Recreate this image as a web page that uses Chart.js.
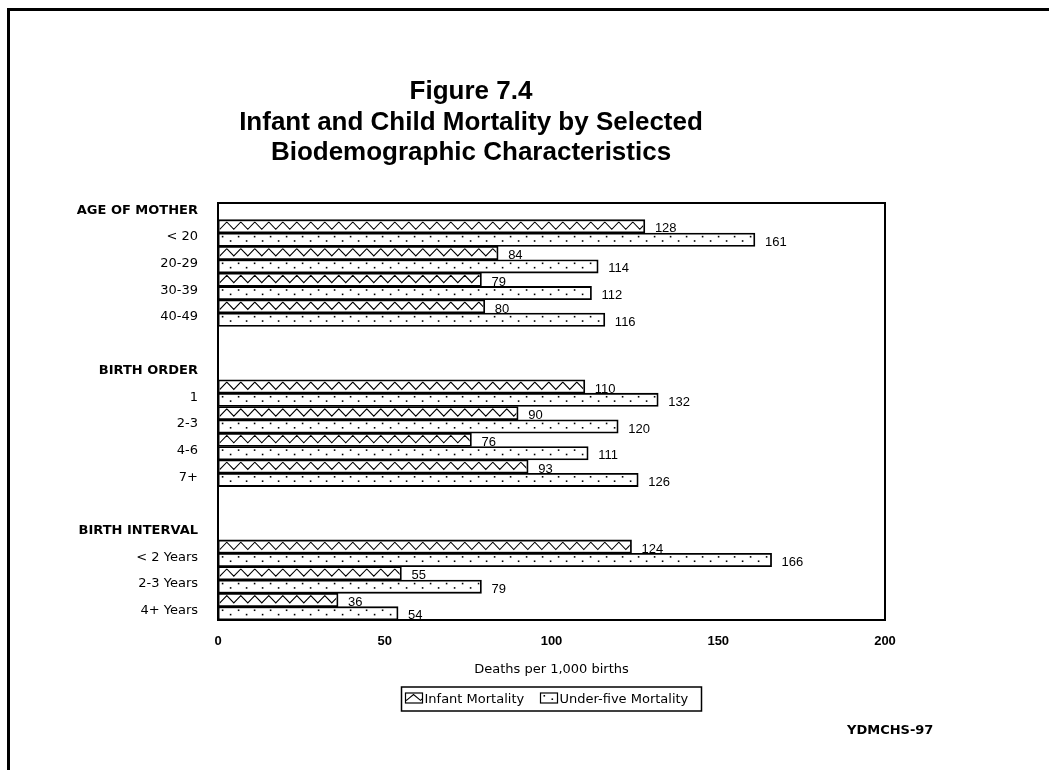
<!DOCTYPE html>
<html>
<head>
<meta charset="utf-8">
<script src="https://cdn.jsdelivr.net/npm/chart.js@4.4.1/dist/chart.umd.min.js"></script>
<style>
  html, body { margin: 0; padding: 0; background: #fff; }
  canvas { display: block; }
</style>
</head>
<body>
<canvas id="mortality" width="1049" height="770"></canvas>
<script>
const categories = ["AGE OF MOTHER", "< 20", "20-29", "30-39", "40-49", "",
  "BIRTH ORDER", "1", "2-3", "4-6", "7+", "",
  "BIRTH INTERVAL", "< 2 Years", "2-3 Years", "4+ Years"];
const headers = ["AGE OF MOTHER", "BIRTH ORDER", "BIRTH INTERVAL"];
const infantMortality = [null, 128, 84, 79, 80, null, null, 110, 90, 76, 93, null, null, 124, 55, 36];
const underFiveMortality = [null, 161, 114, 112, 116, null, null, 132, 120, 111, 126, null, null, 166, 79, 54];
const xTicks = [0, 50, 100, 150, 200];
const titleLines = ["Figure 7.4", "Infant and Child Mortality by Selected", "Biodemographic Characteristics"];
const sourceNote = "YDMCHS-97";

// hatch fills, drawn inside a rect
function zigzag(ctx, l, t, r, b) {
  ctx.beginPath();
  let k = 0;
  for (let x = l - 7; x <= r + 7; x += 7, k++) {
    const y = (k % 2 === 0) ? t + 0.5 : t + (b - t) * 0.8;
    if (k === 0) ctx.moveTo(x, y); else ctx.lineTo(x, y);
  }
  ctx.lineWidth = 1.1;
  ctx.strokeStyle = "#000";
  ctx.stroke();
}
function dots(ctx, l, t, r, b) {
  ctx.fillStyle = "#000";
  const h = b - t;
  for (let x = l + 2; x < r; x += 16) {
    ctx.fillRect(x, t + 1, 1.6, 1.6);
    if (x + 8 < r) ctx.fillRect(x + 8, t + h * 0.55, 1.6, 1.6);
  }
}
const fills = [zigzag, dots];

const decor = {
  id: "decor",
  afterDatasetsDraw(chart) {
    const ctx = chart.ctx;
    chart.data.datasets.forEach((ds, i) => {
      const meta = chart.getDatasetMeta(i);
      meta.data.forEach((el, j) => {
        const v = ds.data[j];
        if (v === null || v === undefined) return;
        const p = el.getProps(["x", "y", "base", "height"], true);
        const bw = 1.8;
        const l = Math.min(p.base, p.x) + bw, r = Math.max(p.base, p.x) - bw;
        const t = p.y - p.height / 2 + bw, b = p.y + p.height / 2 - bw;
        ctx.save();
        ctx.beginPath();
        ctx.rect(l, t, r - l, b - t);
        ctx.clip();
        fills[i](ctx, l, t, r, b);
        ctx.restore();
      });
    });
    // value labels
    ctx.save();
    ctx.font = "13px 'Liberation Sans', Arial, sans-serif";
    ctx.fillStyle = "#000";
    ctx.textAlign = "left";
    ctx.textBaseline = "middle";
    chart.data.datasets.forEach((ds, i) => {
      chart.getDatasetMeta(i).data.forEach((el, j) => {
        const v = ds.data[j];
        if (v === null || v === undefined) return;
        const p = el.getProps(["x", "y"], true);
        ctx.fillText(String(v), p.x + 10, p.y + 2.5);
      });
    });
    ctx.restore();
  },
  afterDraw(chart) {
    const ctx = chart.ctx;
    const a = chart.chartArea;
    ctx.save();
    ctx.fillStyle = "#000";
    // outer frame
    ctx.fillRect(7, 8, chart.width - 7, 3);
    ctx.fillRect(7, 8, 3, chart.height - 8);
    // plot box
    ctx.lineWidth = 2;
    ctx.strokeStyle = "#000";
    ctx.strokeRect(a.left, a.top + 10, a.right - a.left, a.bottom - a.top - 10);
    // title
    ctx.textAlign = "center";
    ctx.textBaseline = "middle";
    ctx.font = "bold 26px 'Liberation Sans', Arial, sans-serif";
    titleLines.forEach((s, k) => ctx.fillText(s, 471, 92 + k * 30.5));
    // legend
    const cx = (a.left + a.right) / 2;
    const lx = cx - 150, ly = a.bottom + 67;
    ctx.lineWidth = 1.5;
    ctx.strokeRect(lx, ly, 300, 24);
    ctx.font = "13px 'DejaVu Sans', sans-serif";
    ctx.textAlign = "left";
    const sw = [lx + 4, lx + 139];
    chart.data.datasets.forEach((ds, i) => {
      const sx = sw[i], sy = ly + 6;
      ctx.fillStyle = "#fff";
      ctx.fillRect(sx, sy, 17, 10);
      ctx.save();
      ctx.beginPath();
      ctx.rect(sx, sy, 17, 10);
      ctx.clip();
      fills[i](ctx, sx + 1, sy + 1, sx + 16, sy + 9);
      ctx.restore();
      ctx.lineWidth = 1.2;
      ctx.strokeStyle = "#000";
      ctx.strokeRect(sx, sy, 17, 10);
      ctx.fillStyle = "#000";
      ctx.fillText(ds.label, sx + 19, ly + 13);
    });
    // source
    ctx.font = "bold 13px 'DejaVu Sans', sans-serif";
    ctx.fillText(sourceNote, 847, 731);
    ctx.restore();
  }
};

const barStyle = {
  categoryPercentage: 1,
  barPercentage: 1,
  backgroundColor: "#fff",
  borderColor: "#000",
  borderWidth: 1.8,
  borderSkipped: false
};

new Chart("mortality", {
  type: "bar",
  data: {
    labels: categories,
    datasets: [
      Object.assign({ label: "Infant Mortality", data: infantMortality }, barStyle),
      Object.assign({ label: "Under-five Mortality", data: underFiveMortality }, barStyle)
    ]
  },
  options: {
    responsive: false,
    animation: false,
    devicePixelRatio: 1,
    indexAxis: "y",
    layout: { padding: { top: 193, right: 164, left: 0, bottom: 0 } },
    scales: {
      x: {
        min: 0,
        max: 200,
        afterBuildTicks: s => { s.ticks = xTicks.map(v => ({ value: v })); },
        afterFit: s => { s.height = 150; },
        grid: { display: false, drawTicks: false },
        border: { display: false },
        ticks: { padding: 14, color: "#000", font: { family: "'Liberation Sans', Arial", size: 13, weight: "bold" } },
        title: {
          display: true,
          text: "Deaths per 1,000 births",
          color: "#000",
          font: { family: "'DejaVu Sans'", size: 13 },
          padding: { top: 0, bottom: 92.2 }
        }
      },
      y: {
        afterFit: s => { s.width = 218; },
        grid: { display: false, drawTicks: false },
        border: { display: false },
        ticks: {
          autoSkip: false,
          padding: 20,
          labelOffset: 4,
          color: "#000",
          font: ctx => headers.includes(ctx.tick && ctx.tick.label)
            ? { family: "'DejaVu Sans'", size: 13, weight: "bold" }
            : { family: "'DejaVu Sans'", size: 13 }
        }
      }
    },
    plugins: {
      colors: { enabled: false },
      legend: { display: false },
      title: { display: false },
      tooltip: { enabled: false }
    }
  },
  plugins: [decor]
});
</script>
</body>
</html>
